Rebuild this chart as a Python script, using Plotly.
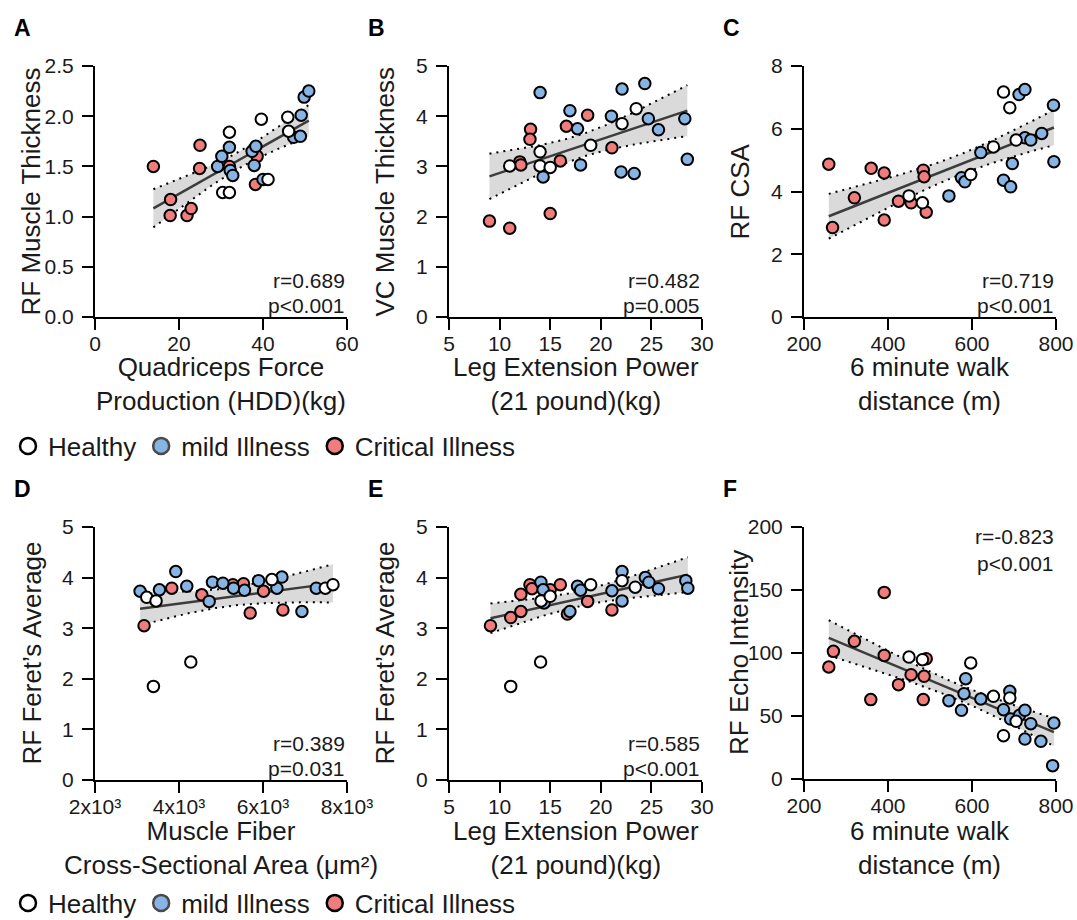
import numpy as np
import plotly.graph_objects as go

W, H = 1077, 920
FONT = "Liberation Sans, Arial, sans-serif"
TXT = "#1a1a1a"

GROUPS = ["Healthy", "mild Illness", "Critical Illness"]
FILL = {"Healthy": "#ffffff", "mild Illness": "#88b4e4", "Critical Illness": "#f07c7c"}

# ---------------- Panel A: RF muscle thickness vs quadriceps force ----------------
A_healthy_x = [32.0, 30.4, 32.0, 39.6, 41.2, 45.9, 46.1]
A_healthy_y = [1.84, 1.24, 1.24, 1.97, 1.37, 1.99, 1.85]
A_mild_x = [29.2, 30.2, 32.0, 32.2, 32.8, 37.4, 38.3, 37.9, 40.0, 47.3, 48.9, 49.1, 49.8, 50.9]
A_mild_y = [1.50, 1.60, 1.69, 1.46, 1.41, 1.65, 1.70, 1.51, 1.37, 1.79, 1.80, 2.01, 2.19, 2.25]
A_crit_x = [13.9, 18.0, 17.9, 21.9, 22.9, 25.0, 24.9, 32.0, 38.6, 38.2]
A_crit_y = [1.50, 1.17, 1.01, 1.01, 1.08, 1.71, 1.48, 1.50, 1.60, 1.32]

# ---------------- Panel B: VC muscle thickness vs leg extension power ----------------
B_healthy_x = [11.0, 14.0, 14.0, 15.0, 19.0, 22.1, 23.5]
B_healthy_y = [3.01, 3.29, 3.01, 2.98, 3.42, 3.85, 4.15]
B_mild_x = [14.0, 14.3, 16.95, 17.7, 18.0, 21.05, 22.1, 22.0, 23.3, 24.35, 24.7, 25.7, 28.3, 28.55]
B_mild_y = [4.47, 2.79, 4.11, 3.75, 3.03, 4.00, 4.54, 2.89, 2.86, 4.65, 3.95, 3.73, 3.95, 3.14]
B_crit_x = [9.0, 11.0, 12.0, 12.1, 13.06, 13.0, 15.0, 16.0, 16.6, 18.7, 21.1]
B_crit_y = [1.91, 1.77, 3.09, 3.03, 3.74, 3.54, 2.06, 3.11, 3.80, 4.02, 3.37]

# ---------------- Panel C: RF CSA vs 6 minute walk distance ----------------
C_healthy_x = [450, 482, 597, 651, 675, 690, 705]
C_healthy_y = [3.86, 3.64, 4.54, 5.42, 7.17, 6.67, 5.64]
C_mild_x = [545, 575, 583, 621, 675, 692, 696, 712, 726, 726, 740, 766, 794, 795]
C_mild_y = [3.86, 4.44, 4.31, 5.24, 4.36, 4.15, 4.89, 7.09, 7.25, 5.71, 5.64, 5.85, 6.75, 4.95]
C_crit_x = [259, 268, 320, 360, 391, 391, 425, 455, 484, 486, 491]
C_crit_y = [4.87, 2.85, 3.80, 4.74, 4.59, 3.09, 3.69, 3.64, 4.68, 4.47, 3.34]

# ---------------- Panel D: RF Feret's average vs fiber CSA ----------------
D_healthy_x = [3232, 3454, 3391, 4281, 6212, 7484, 7666]
D_healthy_y = [3.61, 3.54, 1.85, 2.33, 3.96, 3.79, 3.86]
D_mild_x = [3073, 3534, 3923, 4185, 4718, 4797, 5044, 5298, 5560, 5894, 6331, 6450, 6927, 7269]
D_mild_y = [3.73, 3.76, 4.12, 3.83, 3.53, 3.91, 3.89, 3.79, 3.75, 3.94, 3.79, 4.01, 3.33, 3.79]
D_crit_x = [3168, 3828, 4543, 5282, 5536, 5695, 6013, 6474]
D_crit_y = [3.05, 3.79, 3.66, 3.86, 3.88, 3.30, 3.73, 3.36]

# ---------------- Panel E: RF Feret's average vs leg extension power ----------------
E_healthy_x = [14.1, 15.0, 19.0, 22.1, 23.4, 11.1, 14.05]
E_healthy_y = [3.54, 3.63, 3.86, 3.94, 3.81, 1.85, 2.33]
E_mild_x = [14.08, 14.3, 14.4, 16.95, 17.7, 18.0, 21.1, 22.1, 22.1, 24.4, 24.75, 25.7, 28.4, 28.6]
E_mild_y = [3.91, 3.76, 3.50, 3.33, 3.83, 3.75, 3.74, 4.12, 3.54, 4.00, 3.91, 3.78, 3.94, 3.79]
E_crit_x = [9.1, 11.1, 12.1, 12.1, 13.0, 13.2, 15.0, 16.0, 16.7, 18.7, 21.1]
E_crit_y = [3.05, 3.21, 3.33, 3.67, 3.86, 3.78, 3.76, 3.86, 3.28, 3.53, 3.36]

# ---------------- Panel F: RF echo intensity vs 6 minute walk distance ----------------
F_healthy_x = [450, 482, 597, 651, 675, 690, 705]
F_healthy_y = [96.8, 94.7, 92.1, 65.6, 34.4, 64.3, 45.8]
F_mild_x = [545, 575, 581, 585, 621, 675, 690, 692, 713, 726, 726, 740, 764, 795, 792]
F_mild_y = [62.2, 54.5, 67.7, 79.6, 63.5, 55.0, 69.6, 47.6, 50.5, 54.5, 31.7, 43.9, 29.9, 44.4, 10.6]
F_crit_x = [259, 270, 320, 359, 391, 391, 425, 455, 486, 484, 491]
F_crit_y = [88.9, 101.3, 109.3, 63.0, 148.1, 98.1, 74.9, 82.8, 81.5, 63.0, 95.5]

# statistics text
r_texts = ["r=0.689", "r=0.482", "r=0.719", "r=0.389", "r=0.585", "r=-0.823"]
p_texts = ["p<0.001", "p=0.005", "p<0.001", "p=0.031", "p<0.001", "p<0.001"]

# axis ticks
A_xticks = [0, 20, 40, 60]; A_yticks = [0.0, 0.5, 1.0, 1.5, 2.0, 2.5]
B_xticks = [5, 10, 15, 20, 25, 30]; B_yticks = [0, 1, 2, 3, 4, 5]
C_xticks = [200, 400, 600, 800]; C_yticks = [0, 2, 4, 6, 8]
D_xticks = [2000, 4000, 6000, 8000]; D_xticklabels = ["2x10³", "4x10³", "6x10³", "8x10³"]
D_yticks = [0, 1, 2, 3, 4, 5]
E_xticks = [5, 10, 15, 20, 25, 30]; E_yticks = [0, 1, 2, 3, 4, 5]
F_xticks = [200, 400, 600, 800]; F_yticks = [0, 50, 100, 150, 200]

panels = [
    dict(letter="A", box=(95, 347, 66, 317), xr=[0, 60], yr=[0, 2.5], xt=A_xticks, yt=A_yticks, ytf=".1f",
         data=[(A_crit_x, A_crit_y), (A_mild_x, A_mild_y), (A_healthy_x, A_healthy_y)],
         ytitle="RF Muscle Thickness", ytx=31, xtitle="Quadriceps Force<br>Production (HDD)(kg)", xty=384,
         stat="bottom"),
    dict(letter="B", box=(449, 702, 66, 317), xr=[5, 30], yr=[0, 5], xt=B_xticks, yt=B_yticks, ytf="",
         data=[(B_crit_x, B_crit_y), (B_mild_x, B_mild_y), (B_healthy_x, B_healthy_y)],
         ytitle="VC Muscle Thickness", ytx=385, xtitle="Leg Extension Power<br>(21 pound)(kg)", xty=384,
         stat="bottom"),
    dict(letter="C", box=(804, 1056, 66, 317), xr=[200, 800], yr=[0, 8], xt=C_xticks, yt=C_yticks, ytf="",
         data=[(C_crit_x, C_crit_y), (C_mild_x, C_mild_y), (C_healthy_x, C_healthy_y)],
         ytitle="RF CSA", ytx=740, xtitle="6 minute walk<br>distance (m)", xty=384,
         stat="bottom"),
    dict(letter="D", box=(95, 347, 527, 780), xr=[2000, 8000], yr=[0, 5], xt=D_xticks, yt=D_yticks, ytf="",
         xtl=D_xticklabels,
         data=[(D_crit_x, D_crit_y), (D_mild_x, D_mild_y), (D_healthy_x, D_healthy_y)],
         ytitle="RF Feret’s Average", ytx=31, xtitle="Muscle Fiber<br>Cross-Sectional Area (μm²)", xty=848,
         stat="bottom"),
    dict(letter="E", box=(449, 702, 527, 780), xr=[5, 30], yr=[0, 5], xt=E_xticks, yt=E_yticks, ytf="",
         data=[(E_crit_x, E_crit_y), (E_mild_x, E_mild_y), (E_healthy_x, E_healthy_y)],
         ytitle="RF Feret’s Average", ytx=384, xtitle="Leg Extension Power<br>(21 pound)(kg)", xty=848,
         stat="bottom"),
    dict(letter="F", box=(804, 1056, 527, 779), xr=[200, 800], yr=[0, 200], xt=F_xticks, yt=F_yticks, ytf="",
         data=[(F_crit_x, F_crit_y), (F_mild_x, F_mild_y), (F_healthy_x, F_healthy_y)],
         ytitle="RF Echo Intensity", ytx=739, xtitle="6 minute walk<br>distance (m)", xty=848,
         stat="top"),
]
ORDER = ["Critical Illness", "mild Illness", "Healthy"]


def fx(p):
    return p / W


def fy(p):
    return 1 - p / H


def t975(df):
    return 1.96 + 2.37 / df + 2.8 / df ** 2


def fit_band(xs, ys, n=120):
    x = np.asarray(xs, float)
    y = np.asarray(ys, float)
    nobs = len(x)
    b, a = np.polyfit(x, y, 1)
    xx = np.linspace(x.min(), x.max(), n)
    yhat = a + b * xx
    resid = y - (a + b * x)
    s = np.sqrt(np.sum(resid ** 2) / (nobs - 2))
    sxx = np.sum((x - x.mean()) ** 2)
    se = s * np.sqrt(1 / nobs + (xx - x.mean()) ** 2 / sxx)
    t = t975(nobs - 2)
    return xx, yhat, yhat - t * se, yhat + t * se


fig = go.Figure()
layout = dict(
    width=W, height=H, autosize=False,
    margin=dict(l=0, r=0, t=0, b=0, autoexpand=False),
    paper_bgcolor="white", plot_bgcolor="white",
    font=dict(family=FONT, color=TXT),
    showlegend=True,
)
annotations = []

for i, p in enumerate(panels):
    k = "" if i == 0 else str(i + 1)
    xa, ya = "x" + k, "y" + k
    l, r, t, b = p["box"]
    xaxis = dict(domain=[fx(l), fx(r)], range=p["xr"], anchor=ya, showline=True, linecolor="black",
                 linewidth=2, ticks="outside", ticklen=11, tickwidth=2, tickcolor="black",
                 tickvals=p["xt"], showgrid=False, zeroline=False, automargin=False,
                 ticklabelstandoff=-4,
                 tickfont=dict(size=21, family=FONT, color=TXT))
    if "xtl" in p:
        xaxis["ticktext"] = p["xtl"]
    yaxis = dict(domain=[fy(b), fy(t)], range=p["yr"], anchor=xa, showline=True, linecolor="black",
                 linewidth=2, ticks="outside", ticklen=11, tickwidth=2, tickcolor="black",
                 tickvals=p["yt"], showgrid=False, zeroline=False, automargin=False,
                 ticklabelstandoff=4,
                 tickfont=dict(size=21, family=FONT, color=TXT))
    if p["ytf"]:
        yaxis["tickformat"] = p["ytf"]
    layout["xaxis" + k] = xaxis
    layout["yaxis" + k] = yaxis

    allx = sum([list(d[0]) for d in p["data"]], [])
    ally = sum([list(d[1]) for d in p["data"]], [])
    xx, yhat, lo, hi = fit_band(allx, ally)
    fig.add_trace(go.Scatter(x=xx, y=lo, mode="lines", xaxis=xa, yaxis=ya, showlegend=False,
                             line=dict(color="black", width=2, dash="2px,5px"), hoverinfo="skip"))
    fig.add_trace(go.Scatter(x=xx, y=hi, mode="lines", xaxis=xa, yaxis=ya, showlegend=False,
                             fill="tonexty", fillcolor="#dadada",
                             line=dict(color="black", width=2, dash="2px,5px"), hoverinfo="skip"))
    fig.add_trace(go.Scatter(x=xx, y=yhat, mode="lines", xaxis=xa, yaxis=ya, showlegend=False,
                             line=dict(color="#3c3c3c", width=2.5), hoverinfo="skip"))
    for g, (dx, dy) in zip(ORDER, p["data"]):
        fig.add_trace(go.Scatter(x=dx, y=dy, mode="markers", xaxis=xa, yaxis=ya, name=g,
                                 showlegend=False, cliponaxis=False,
                                 marker=dict(size=11.5, color=FILL[g], line=dict(color="black", width=2))))

    # panel letter
    annotations.append(dict(text="<b>%s</b>" % p["letter"], xref="paper", yref="paper",
                            x=fx(l - 83), y=fy(t - 38), xanchor="left", yanchor="middle",
                            showarrow=False, font=dict(size=23, family=FONT, color="black")))
    # y title
    annotations.append(dict(text=p["ytitle"], xref="paper", yref="paper", x=fx(p["ytx"]),
                            y=fy((t + b) / 2), textangle=-90, xanchor="center", yanchor="middle",
                            showarrow=False, font=dict(size=26, family=FONT, color=TXT)))
    # x title
    annotations.append(dict(text=p["xtitle"], xref="paper", yref="paper", x=fx((l + r) / 2),
                            y=fy(p["xty"]), xanchor="center", yanchor="middle", showarrow=False,
                            font=dict(size=26, family=FONT, color=TXT)))
    # stats
    if p["stat"] == "bottom":
        ry, py = b - 37, b - 12
    else:
        ry, py = t + 9, t + 36
    annotations.append(dict(text=r_texts[i], xref="paper", yref="paper", x=fx(r), y=fy(ry),
                            xanchor="right", yanchor="middle", showarrow=False,
                            font=dict(size=21, family=FONT, color=TXT)))
    annotations.append(dict(text=p_texts[i], xref="paper", yref="paper", x=fx(r), y=fy(py),
                            xanchor="right", yanchor="middle", showarrow=False,
                            font=dict(size=21, family=FONT, color=TXT)))

# legend entries (two legends, one per row of panels)
LEG_OUTLINE = {"Healthy": "black", "mild Illness": "#4a4a4a", "Critical Illness": "black"}
for lg in ["legend", "legend2"]:
    for g in GROUPS:
        fig.add_trace(go.Scatter(x=[None], y=[None], mode="markers", name=g, legend=lg,
                                 showlegend=True, hoverinfo="skip",
                                 marker=dict(size=16, color=FILL[g],
                                             line=dict(color=LEG_OUTLINE[g], width=2.5))))

leg_common = dict(orientation="h", xanchor="left", yanchor="middle", bgcolor="rgba(0,0,0,0)",
                  font=dict(size=26, family=FONT, color=TXT), itemwidth=30, traceorder="normal",
                  itemclick=False, itemdoubleclick=False)
layout["legend"] = dict(x=fx(8), y=fy(446), **leg_common)
layout["legend2"] = dict(x=fx(8), y=fy(903), **leg_common)
layout["annotations"] = annotations

fig.update_layout(**layout)
fig.write_html(
    "out.html",
    config={"displayModeBar": False},
    post_script="document.body.style.margin='0';document.documentElement.style.overflow='hidden';",
)
